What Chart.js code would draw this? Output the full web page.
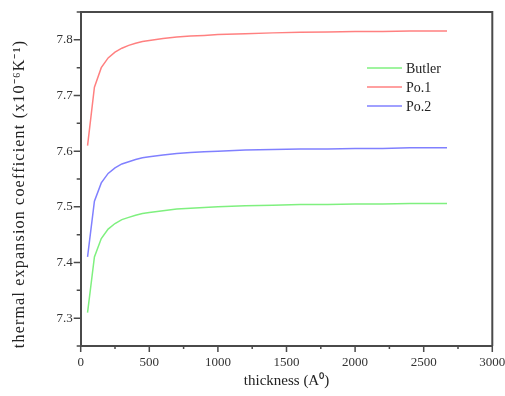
<!DOCTYPE html>
<html>
<head>
<meta charset="utf-8">
<script src="https://cdn.jsdelivr.net/npm/chart.js@4/dist/chart.umd.min.js"></script>
<style>
html,body{margin:0;padding:0;background:#fff;}
#wrap{width:505px;height:396px;position:relative;}
</style>
</head>
<body>
<div id="wrap"><canvas id="c" width="505" height="396"></canvas></div>
<script>
// ---- data ----
const thickness = [50,100,150,200,250,300,350,400,450,500,600,700,800,900,1000,1200,1400,1600,1800,2000,2200,2400,2670];
const butler = [7.310,7.410,7.443,7.460,7.470,7.477,7.481,7.485,7.488,7.490,7.493,7.496,7.4975,7.499,7.500,7.502,7.503,7.504,7.504,7.505,7.505,7.506,7.506];
const po1    = [7.610,7.715,7.750,7.7675,7.778,7.785,7.790,7.794,7.797,7.799,7.8025,7.805,7.807,7.808,7.8095,7.811,7.8125,7.8134,7.814,7.815,7.815,7.816,7.816];
const po2    = [7.410,7.510,7.543,7.560,7.570,7.577,7.581,7.585,7.588,7.590,7.593,7.596,7.5975,7.599,7.600,7.602,7.603,7.604,7.604,7.605,7.605,7.606,7.606];
const seriesNames = ['Butler','Po.1','Po.2'];
const xTicks = [0,500,1000,1500,2000,2500,3000];
const xMinorTicks = [250,750,1250,1750,2250,2750];
const yTicks = [7.3,7.4,7.5,7.6,7.7,7.8];
const yMinorTicks = [7.25,7.35,7.45,7.55,7.65,7.75,7.85];
const xTitle = 'thickness (A\u2070)';
const yTitle = 'thermal expansion coefficient (x10\u207B\u2076K\u207B\u00B9)';

const colors = ['#7ff07f','#ff8080','#8080ff'];
const FONT = '"Liberation Serif", "Times New Roman", serif';
const AXIS = '#4a4a4a';

function pts(ys){ return thickness.map((t,i)=>({x:t,y:ys[i]})); }

const decor = {
  id:'decor',
  afterDraw(chart){
    const ctx = chart.ctx, a = chart.chartArea;
    const xs = chart.scales.x, ys = chart.scales.y;
    ctx.save();
    ctx.strokeStyle = AXIS;
    ctx.lineWidth = 2;
    // frame top / right
    ctx.beginPath();
    ctx.moveTo(a.left, a.top); ctx.lineTo(a.right, a.top); ctx.lineTo(a.right, a.bottom);
    ctx.stroke();
    ctx.lineWidth = 1.5;
    // ticks
    ctx.beginPath();
    yTicks.forEach(v=>{const p=ys.getPixelForValue(v); ctx.moveTo(a.left-7,p); ctx.lineTo(a.left,p);});
    yMinorTicks.forEach(v=>{const p=ys.getPixelForValue(v); ctx.moveTo(a.left-4,p); ctx.lineTo(a.left,p);});
    xTicks.forEach(v=>{const p=xs.getPixelForValue(v); ctx.moveTo(p,a.bottom); ctx.lineTo(p,a.bottom+6);});
    xMinorTicks.forEach(v=>{const p=xs.getPixelForValue(v); ctx.moveTo(p,a.bottom); ctx.lineTo(p,a.bottom+3);});
    ctx.stroke();
    // legend
    const ly = [68, 87, 106];
    ctx.font = '14px ' + FONT;
    ctx.textBaseline = 'middle';
    ctx.textAlign = 'left';
    chart.data.datasets.forEach((d,i)=>{
      ctx.strokeStyle = d.borderColor; ctx.lineWidth = 1.5;
      ctx.beginPath(); ctx.moveTo(367, ly[i]); ctx.lineTo(402, ly[i]); ctx.stroke();
      ctx.fillStyle = '#222';
      ctx.fillText(d.label, 406, ly[i]+1);
    });
    // axis titles
    ctx.fillStyle = '#222';
    ctx.font = '15px ' + FONT;
    ctx.textAlign = 'center';
    ctx.fillText(xTitle, (a.left+a.right)/2, 381);
    ctx.translate(20, 194);
    ctx.rotate(-Math.PI/2);
    ctx.font = '16px ' + FONT;
    if ('letterSpacing' in ctx) ctx.letterSpacing = '1.2px';
    ctx.fillText(yTitle, 0, 0);
    ctx.restore();
  }
};

new Chart(document.getElementById('c'), {
  type:'line',
  data:{
    datasets:[
      {label:seriesNames[0], data:pts(butler), borderColor:colors[0]},
      {label:seriesNames[1], data:pts(po1), borderColor:colors[1]},
      {label:seriesNames[2], data:pts(po2), borderColor:colors[2]}
    ].map(d=>Object.assign(d,{borderWidth:1.5,pointRadius:0,tension:0,fill:false}))
  },
  options:{
    responsive:false,
    animation:false,
    layout:{padding:{left:0,right:12.7,top:12,bottom:0}},
    plugins:{legend:{display:false},tooltip:{enabled:false}},
    scales:{
      x:{
        type:'linear', min:0, max:3000,
        afterBuildTicks(s){ s.ticks = xTicks.map(v=>({value:v})); },
        afterFit(s){ s.height = 50; s.paddingLeft = 0; s.paddingRight = 0; },
        grid:{display:false, drawTicks:false},
        border:{display:true,color:AXIS,width:2},
        ticks:{font:{family:FONT,size:13},color:'#333',padding:9,maxRotation:0,callback:v=>String(v)}
      },
      y:{
        type:'linear', min:7.25, max:7.85,
        afterBuildTicks(s){ s.ticks = yTicks.map(v=>({value:v})); },
        afterFit(s){ s.width = 80.7; s.paddingTop = 0; s.paddingBottom = 0; },
        grid:{display:false, drawTicks:false},
        border:{display:true,color:AXIS,width:2},
        ticks:{font:{family:FONT,size:13},color:'#333',padding:8,callback:v=>v.toFixed(1)}
      }
    }
  },
  plugins:[decor]
});
</script>
</body>
</html>
